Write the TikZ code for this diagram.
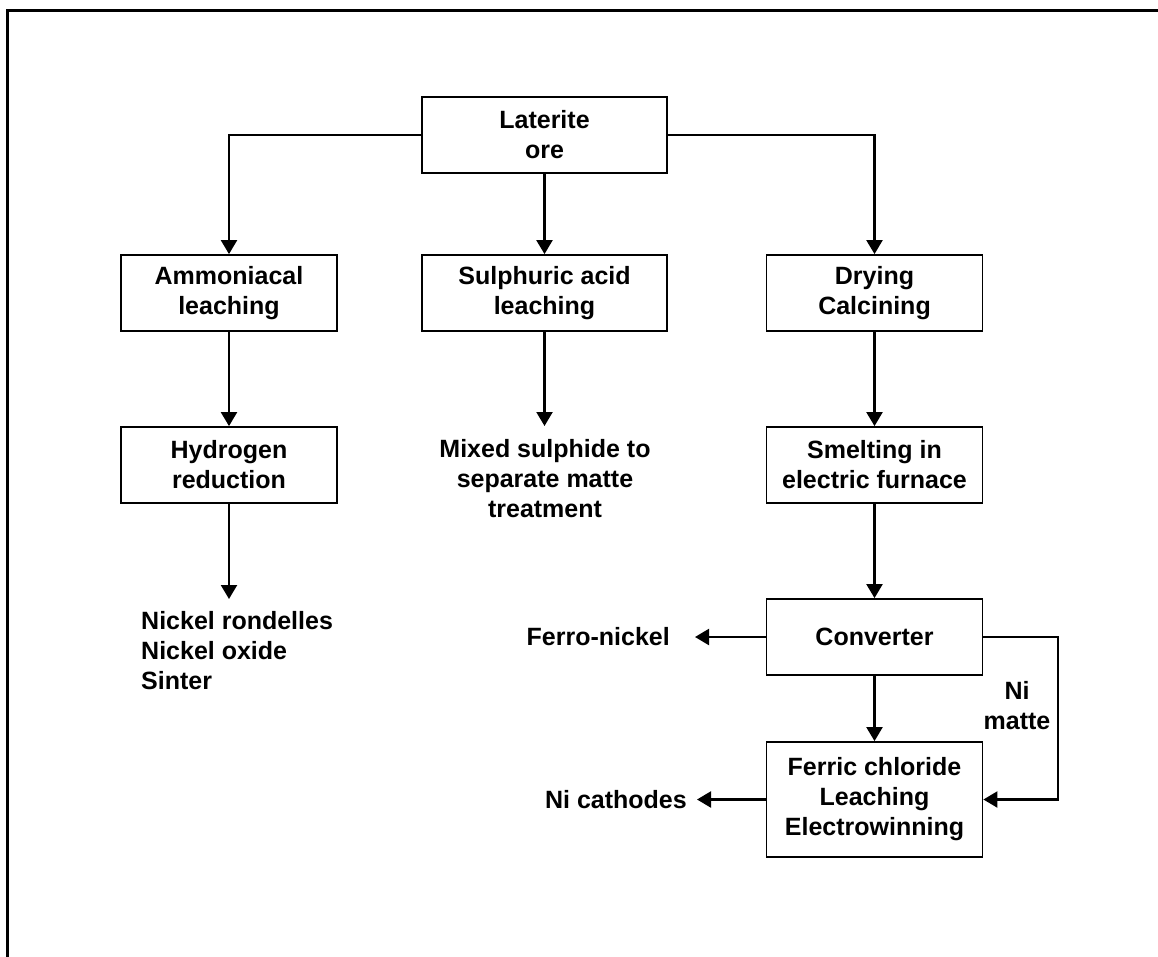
\documentclass[tikz,border=0pt]{standalone}
\usepackage{fontspec}
\setmainfont{Liberation Sans}
\usetikzlibrary{arrows.meta}
\tikzset{
  box/.style={draw, line width=1.8pt, minimum width=216pt, minimum height=76pt, align=center, inner sep=0pt, font=\fontsize{25}{30}\selectfont\bfseries},
  wide/.style={box, minimum width=245pt},
  lbl/.style={align=center, inner sep=0pt, font=\fontsize{25}{30}\selectfont\bfseries},
  conn/.style={line width=2.2pt, -{Triangle[width=16pt,length=14pt]}},
  plain/.style={line width=2.2pt}
}
\begin{document}
\begin{tikzpicture}[x=1pt,y=-1pt]
\useasboundingbox (0,0) rectangle (1158,957);
\draw[line width=3pt] (7.5,957) -- (7.5,11) -- (1158,11);
% boxes
\node[wide] (lat) at (544.5,135) {Laterite\\ore};
\node[box] (amm) at (229,293) {Ammoniacal\\leaching};
\node[wide] (sul) at (544.5,293) {Sulphuric acid\\leaching};
\node[box] (dry) at (874.5,293) {Drying\\Calcining};
\node[box] (hyd) at (229,465) {Hydrogen\\reduction};
\node[box] (sme) at (874.5,465) {Smelting in\\electric furnace};
\node[box] (con) at (874.5,637) {Converter};
\node[box, minimum height=115pt] (fer) at (874.5,799.5) {Ferric chloride\\Leaching\\Electrowinning};
% labels
\node[lbl] (mix) at (545,479) {Mixed sulphide to\\separate matte\\treatment};
\node[lbl, align=left, anchor=west] (nick) at (141,651) {Nickel rondelles\\Nickel oxide\\Sinter};
\node[lbl, anchor=east, inner xsep=25pt] (ferro) at (695,637) {Ferro-nickel};
\node[lbl, anchor=east, inner xsep=10pt] (cath) at (697,799.5) {Ni cathodes};
\node[lbl] (nimatte) at (1017,706) {Ni\\matte};
% free ends
\coordinate (mixin) at (544.5,426);
\coordinate (nickin) at (229,599);
\coordinate (loop) at (1058,637);
% connectors
\draw[conn] (lat.west) -| (amm.north);
\draw[conn] (lat.east) -| (dry.north);
\draw[conn] (lat.south) -- (sul.north);
\draw[conn] (amm.south) -- (hyd.north);
\draw[conn] (hyd.south) -- (nickin);
\draw[conn] (sul.south) -- (mixin);
\draw[conn] (dry.south) -- (sme.north);
\draw[conn] (sme.south) -- (con.north);
\draw[conn] (con.south) -- (fer.north);
\draw[conn] (con.west) -- (ferro.east);
\draw[conn] (fer.west) -- (fer.west -| cath.east);
\draw[conn] (con.east) -- (loop) |- (fer.east);
\end{tikzpicture}
\end{document}
